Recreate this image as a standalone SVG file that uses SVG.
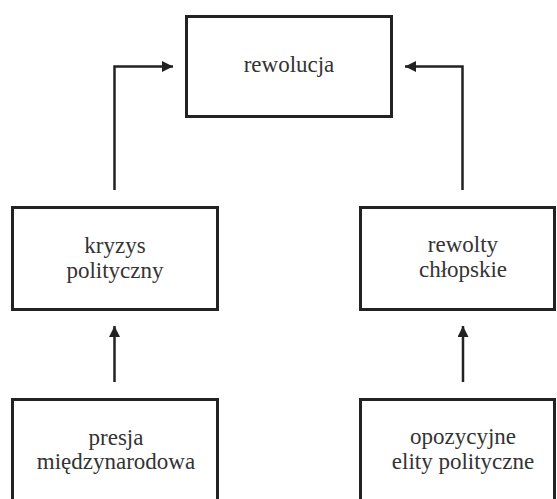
<svg xmlns="http://www.w3.org/2000/svg" width="557" height="499" viewBox="0 0 557 499">
<style>
.box{fill:#fff;stroke:#222;stroke-width:3}
.t{font-size:23px;fill:#333;text-anchor:middle}
.c{fill:none;stroke:#222;stroke-width:2.5}
</style>
<defs>
<marker id="ah" viewBox="0 0 10 10" refX="10" refY="5" markerWidth="4.4" markerHeight="4.4" markerUnits="strokeWidth" orient="auto">
<path d="M0,0 L10,5 L0,10 z" fill="#222"/>
</marker>
</defs>
<rect width="557" height="499" fill="#fff"/>
<g id="connectors">
<path class="c" d="M114.5,190 V66.5 H173" marker-end="url(#ah)"/>
<path class="c" d="M462.5,190 V66.5 H405" marker-end="url(#ah)"/>
<path class="c" d="M114.5,382 V326" stroke-width="3" marker-end="url(#ah)"/>
<path class="c" d="M463,382 V326" stroke-width="3" marker-end="url(#ah)"/>
</g>
<g font-family="Liberation Serif, Tinos, Times New Roman, DejaVu Serif, serif">
<g id="rewolucja">
<rect class="box" x="186.5" y="16.5" width="205" height="100"/>
<text class="t" x="289" y="72">rewolucja</text>
</g>
<g id="kryzys">
<rect class="box" x="12.5" y="207.5" width="205" height="102"/>
<text class="t" x="115" y="253">kryzys</text>
<text class="t" x="115" y="278">polityczny</text>
</g>
<g id="rewolty">
<rect class="box" x="360.5" y="207.5" width="194" height="102"/>
<text class="t" x="463" y="252">rewolty</text>
<text class="t" x="463" y="277">chłopskie</text>
</g>
<g id="presja">
<rect class="box" x="12.5" y="399.5" width="205" height="110"/>
<text class="t" x="116" y="445">presja</text>
<text class="t" x="116" y="469">międzynarodowa</text>
</g>
<g id="opozycyjne">
<rect class="box" x="360.5" y="399.5" width="194" height="110"/>
<text class="t" x="463" y="444">opozycyjne</text>
<text class="t" x="463" y="469">elity polityczne</text>
</g>
</g>
</svg>
